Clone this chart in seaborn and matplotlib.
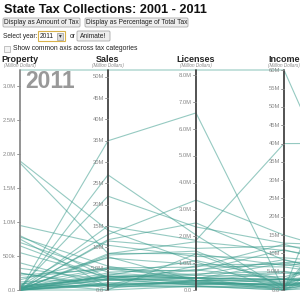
import matplotlib
matplotlib.use("Agg")
import matplotlib.pyplot as plt
from matplotlib.patches import FancyBboxPatch, Rectangle
import numpy as np
import pandas as pd
import seaborn as sns

# tax categories (5th one is cut off at the right edge of the view)
categories = ["Property", "Sales", "Licenses", "Income", "Other"]
tick_steps = [0.5, 5, 1, 5, 1]

states = ["Alabama", "Alaska", "Arizona", "Arkansas", "California", "Colorado",
          "Connecticut", "Delaware", "Florida", "Georgia", "Hawaii", "Idaho",
          "Illinois", "Indiana", "Iowa", "Kansas", "Kentucky", "Louisiana",
          "Maine", "Maryland", "Massachusetts", "Michigan", "Minnesota",
          "Mississippi", "Missouri", "Montana", "Nebraska", "Nevada",
          "New Hampshire", "New Jersey", "New Mexico", "New York",
          "North Carolina", "North Dakota", "Ohio", "Oklahoma", "Oregon",
          "Pennsylvania", "Rhode Island", "South Carolina", "South Dakota",
          "Tennessee", "Texas", "Utah", "Vermont", "Virginia", "Washington",
          "West Virginia", "Wisconsin", "Wyoming"]

# values for 2011, in the units shown on each axis (millions)
property_tax = [0.32, 0.10, 0.78, 0.80, 3.24, 0.02, 0.00, 0.00, 0.00, 0.08,
                0.00, 0.00, 0.06, 0.01, 0.12, 0.65, 0.55, 0.05, 0.05, 0.70,
                0.18, 1.87, 0.95, 0.03, 0.03, 0.25, 0.00, 0.22, 0.40, 0.01,
                0.06, 0.00, 0.00, 0.00, 0.00, 0.00, 0.02, 0.04, 0.00, 0.02,
                0.00, 0.00, 0.00, 0.00, 0.75, 0.03, 1.90, 0.01, 0.15, 0.25]
sales_tax = [2.3, 0.0, 5.6, 2.9, 51.6, 2.3, 3.6, 0.0, 27.0, 5.2,
             3.2, 1.3, 13.0, 7.8, 2.6, 2.6, 3.0, 3.2, 1.2, 4.2,
             5.2, 8.6, 10.5, 3.2, 3.1, 0.4, 1.7, 4.9, 0.9, 11.5,
             2.6, 15.0, 8.5, 1.6, 11.8, 3.4, 1.2, 22.0, 1.3, 4.0,
             1.0, 8.2, 35.0, 2.4, 0.8, 4.9, 14.0, 2.6, 7.5, 0.9]
license_tax = [0.45, 0.14, 0.35, 0.35, 8.2, 0.45, 0.42, 1.35, 2.05, 0.55,
               0.25, 0.30, 3.35, 0.35, 0.75, 0.35, 0.55, 0.45, 0.25, 0.75,
               0.85, 1.35, 1.25, 0.45, 0.60, 0.35, 0.20, 0.45, 0.35, 1.55,
               0.30, 1.85, 1.80, 0.25, 2.50, 1.10, 0.90, 2.35, 0.12, 0.45,
               0.30, 1.45, 6.6, 0.20, 0.12, 0.70, 1.05, 0.18, 0.95, 0.15]
income_tax = [2.9, 0.0, 2.8, 2.3, 60.1, 4.9, 7.4, 1.1, 0.0, 8.3,
              1.6, 1.3, 15.0, 4.6, 3.0, 2.9, 3.6, 2.9, 1.5, 7.5,
              12.5, 6.7, 8.8, 1.8, 5.1, 1.0, 2.0, 0.0, 0.5, 12.0,
              1.2, 40.0, 10.8, 0.7, 8.2, 2.9, 6.3, 12.8, 1.1, 2.8,
              0.05, 1.2, 0.0, 2.9, 0.6, 11.0, 0.0, 1.7, 7.0, 0.0]
other_tax = [0.5, 6.0, 0.2, 0.4, 0.6, 0.3, 0.4, 0.5, 1.0, 0.3,
             0.2, 0.1, 0.8, 0.3, 0.2, 0.4, 1.0, 1.4, 0.2, 0.8,
             0.6, 0.9, 0.7, 0.3, 0.2, 0.7, 0.1, 0.3, 0.3, 1.0,
             1.1, 4.0, 0.7, 3.0, 0.3, 1.0, 0.3, 1.2, 0.2, 0.2,
             0.1, 0.3, 3.0, 0.2, 0.2, 0.5, 0.6, 0.9, 0.3, 1.5]

year = "2011"

wide = pd.DataFrame({"State": states, "Property": property_tax, "Sales": sales_tax,
                     "Licenses": license_tax, "Income": income_tax, "Other": other_tax})
maxes = {c: wide[c].max() for c in categories}

# long format, each axis scaled 0..max like the d3 version
rows = []
for i, c in enumerate(categories):
    for s, v in zip(wide["State"], wide[c]):
        rows.append({"State": s, "pos": i, "y": v / maxes[c]})
df = pd.DataFrame(rows)

sns.set_style("white")
plt.rcParams['font.family'] = ['Liberation Sans', 'DejaVu Sans']

W = H = 300
fig = plt.figure(figsize=(3, 3), dpi=100)
fig.patch.set_facecolor("white")

top_px, bot_px, left_px, gap_px = 70, 290, 20, 88
ax = fig.add_axes([0, 1 - bot_px / H, 1, (bot_px - top_px) / H])
ax.set_xlim(-left_px / gap_px, (W - left_px) / gap_px)
ax.set_ylim(0, 1)
ax.axis("off")

sns.lineplot(data=df, x="pos", y="y", units="State", estimator=None, sort=False,
             color="#3f9e8f", alpha=0.55, linewidth=0.8, ax=ax, legend=False)
for ln in ax.lines:
    ln.set_clip_on(False)


def fmt(v):
    if v == 0:
        return "0.0"
    if v < 1:
        return "%dk" % round(v * 1000)
    if v < 10:
        return "%.1fM" % v
    return "%.0fM" % v


# the axes themselves
for i, c in enumerate(categories[:4]):
    col = "#8a8a8a" if i == 0 else "#444444"
    ax.plot([i, i], [0, 1], color=col, lw=1.3, clip_on=False, zorder=3)
    for t in np.arange(0, maxes[c] + 1e-9, tick_steps[i]):
        yy = t / maxes[c]
        ax.plot([i - 0.03, i], [yy, yy], color="#888888", lw=0.6, clip_on=False, zorder=3)
        ax.text(i - 0.045, yy, fmt(t), ha="right", va="center", fontsize=4.2,
                color="#888888", zorder=4)
    x_fig = (left_px + gap_px * i) / W
    fig.text(x_fig, 1 - 60 / H, c, ha="center", va="center", fontsize=6.5,
             fontweight="bold")
    fig.text(x_fig, 1 - 65.5 / H, "(Million Dollars)", ha="center", va="center",
             fontsize=3.3, style="italic", color="#888888")

# big year label
fig.text(25 / W, 1 - 81 / H, year, ha="left", va="center", fontsize=16.5,
         fontweight="bold", color="#999999")

# page header and controls
fig.text(4 / W, 1 - 10 / H, "State Tax Collections: 2001 - 2011", ha="left", va="center",
         fontsize=9.2, fontweight="bold", color="#111111")


def button(x0, x1, y0, y1, label, fs=4.8):
    fig.patches.append(FancyBboxPatch((x0 / W, 1 - y1 / H), (x1 - x0) / W, (y1 - y0) / H,
                                      boxstyle="round,pad=0,rounding_size=0.004",
                                      transform=fig.transFigure, facecolor="#eeeeee",
                                      edgecolor="#aaaaaa", lw=0.6))
    fig.text((x0 + x1) / 2 / W, 1 - (y0 + y1) / 2 / H, label, ha="center", va="center",
             fontsize=fs, color="#222222")


button(3, 80, 18, 27, "Display as Amount of Tax")
button(85, 188, 18, 27, "Display as Percentage of Total Tax")
fig.text(3 / W, 1 - 36 / H, "Select year:", ha="left", va="center", fontsize=4.7, color="#222222")
fig.patches.append(Rectangle((38 / W, 1 - 41 / H), 27 / W, 10 / H, transform=fig.transFigure,
                             facecolor="white", edgecolor="#d8b24a", lw=0.8))
fig.text(40 / W, 1 - 36 / H, "2011", ha="left", va="center", fontsize=4.8, color="#222222")
fig.patches.append(Rectangle((57 / W, 1 - 39.5 / H), 6 / W, 7 / H, transform=fig.transFigure,
                             facecolor="#dddddd", edgecolor="#999999", lw=0.5))
fig.text(60 / W, 1 - 36 / H, "\u25be", ha="center", va="center", fontsize=4, color="#333333",
         family=["DejaVu Sans"])
fig.text(70 / W, 1 - 36 / H, "or", ha="left", va="center", fontsize=4.8, color="#222222")
button(77, 110, 31, 41, "Animate!")
fig.patches.append(Rectangle((4 / W, 1 - 52 / H), 6 / W, 6 / H, transform=fig.transFigure,
                             facecolor="#f4f4f4", edgecolor="#aaaaaa", lw=0.5))
fig.text(13 / W, 1 - 49 / H, "Show common axis across tax categories", ha="left", va="center",
         fontsize=4.9, color="#222222")

fig.savefig("out.png", dpi=100, facecolor="white")
